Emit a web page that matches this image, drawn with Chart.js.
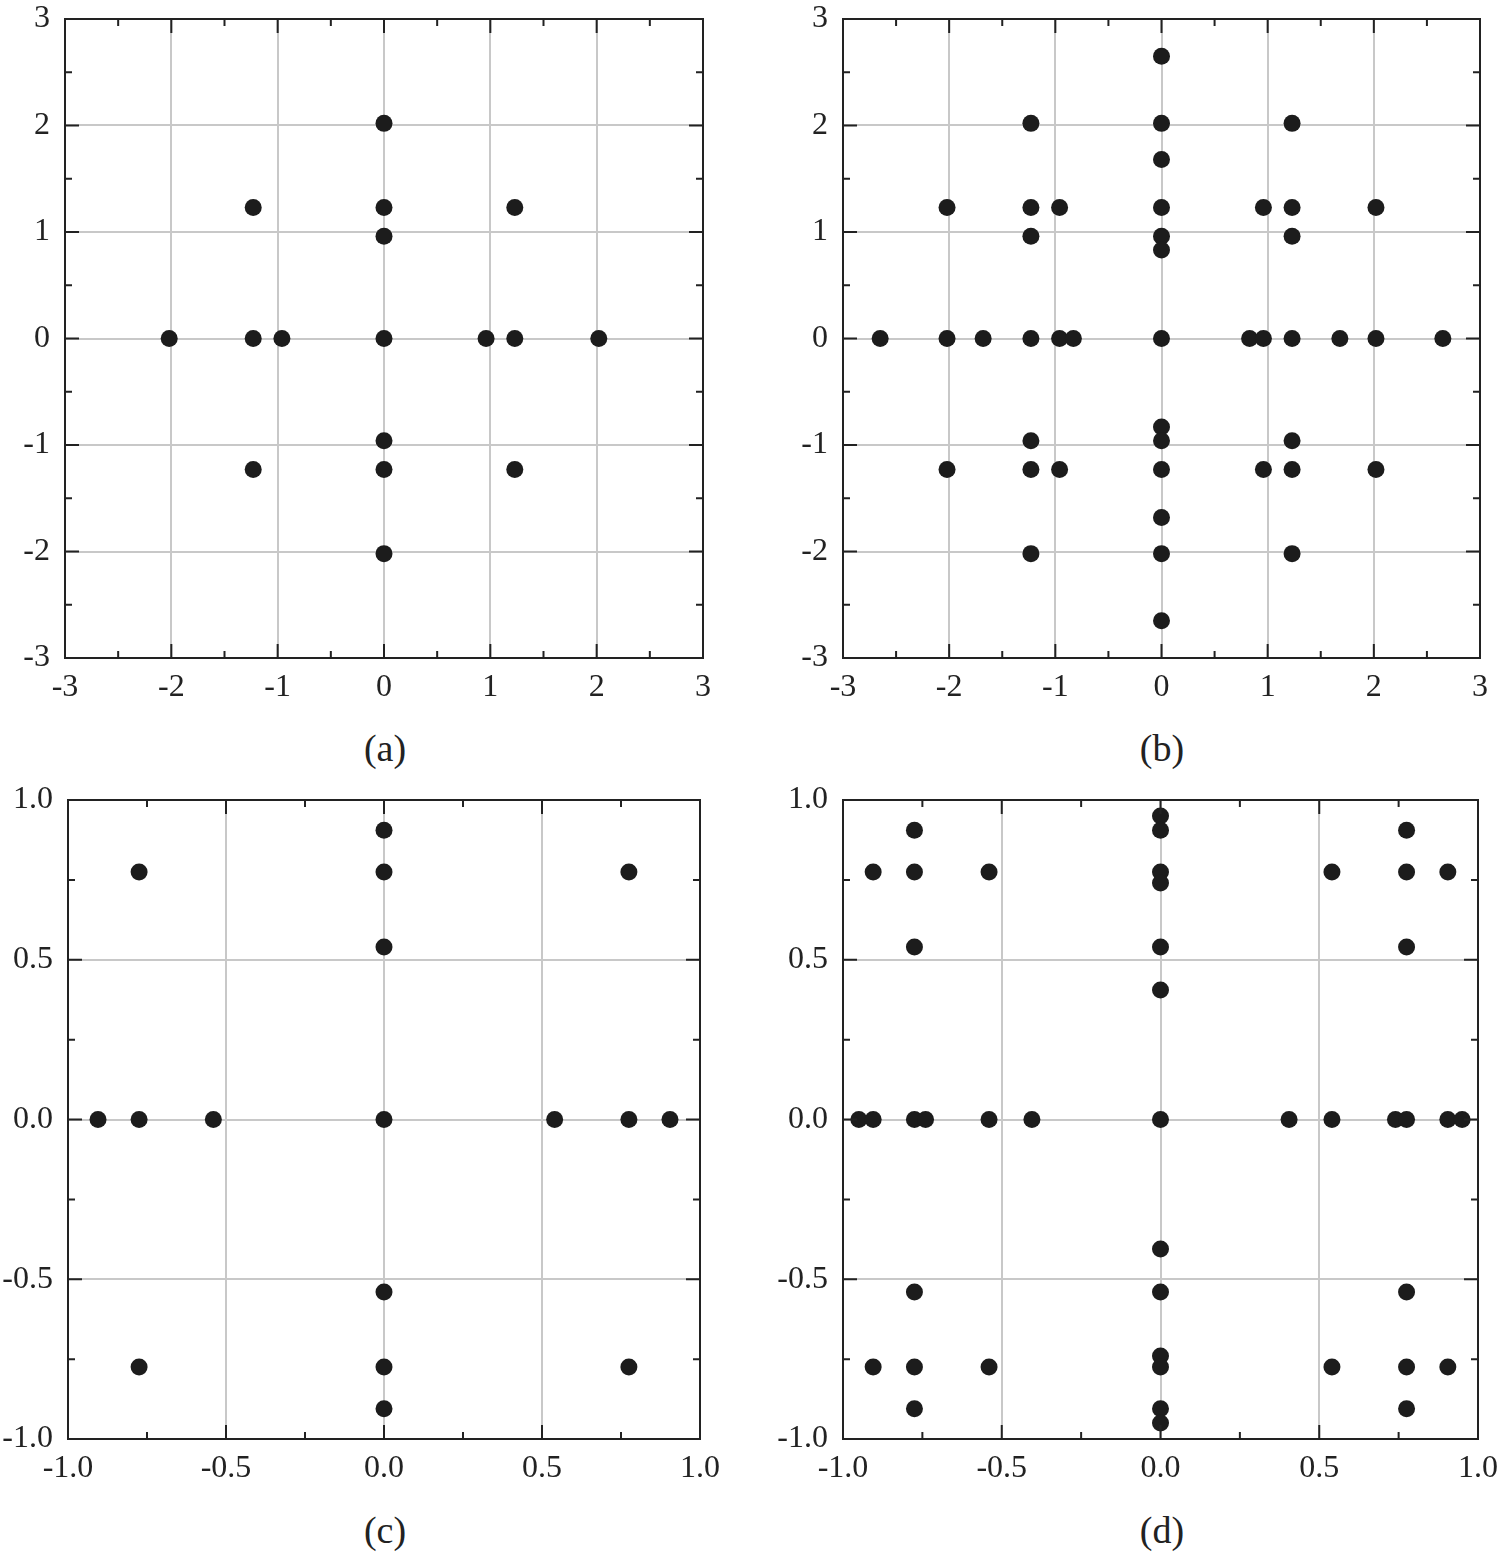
<!DOCTYPE html>
<html>
<head>
<meta charset="utf-8">
<script src="https://cdn.jsdelivr.net/npm/chart.js@4"></script>
<style>
  body { margin: 0; background: #fff; }
  #wrap { position: relative; width: 1500px; height: 1556px; }
  canvas { position: absolute; }
  .cap { position: absolute; width: 120px; text-align: center; font-family: 'Liberation Serif', 'DejaVu Serif', serif; font-size: 38px; line-height: 40px; color: #222; }
</style>
</head>
<body>
<div id="wrap">
  <canvas id="chartA" width="740" height="720" style="left:0;top:0"></canvas>
  <canvas id="chartB" width="722" height="720" style="left:778px;top:0"></canvas>
  <canvas id="chartC" width="740" height="720" style="left:0;top:780px"></canvas>
  <canvas id="chartD" width="722" height="720" style="left:778px;top:780px"></canvas>
  <div class="cap" style="left:325px;top:728px">(a)</div>
  <div class="cap" style="left:1102px;top:728px">(b)</div>
  <div class="cap" style="left:325px;top:1510px">(c)</div>
  <div class="cap" style="left:1102px;top:1510px">(d)</div>
</div>
<script>
// 数据 (a)
const aX = [0, -1.23, 0, 1.23, 0, -2.02, -1.23, -0.96, 0, 0.96, 1.23, 2.02, 0, -1.23, 0, 1.23, 0];
const aY = [2.02, 1.23, 1.23, 1.23, 0.96, 0, 0, 0, 0, 0, 0, 0, -0.96, -1.23, -1.23, -1.23, -2.02];

// 数据 (b)
const bX = [0,
  -1.23, 0, 1.23,
  0,
  -2.02, -1.23, -0.96, 0, 0.96, 1.23, 2.02,
  -1.23, 0, 1.23,
  0,
  -2.65, -2.02, -1.68, -1.23, -0.96, -0.83, 0, 0.83, 0.96, 1.23, 1.68, 2.02, 2.65,
  0,
  -1.23, 0, 1.23,
  -2.02, -1.23, -0.96, 0, 0.96, 1.23, 2.02,
  0,
  -1.23, 0, 1.23,
  0];
const bY = [2.65,
  2.02, 2.02, 2.02,
  1.68,
  1.23, 1.23, 1.23, 1.23, 1.23, 1.23, 1.23,
  0.96, 0.96, 0.96,
  0.83,
  0, 0, 0, 0, 0, 0, 0, 0, 0, 0, 0, 0, 0,
  -0.83,
  -0.96, -0.96, -0.96,
  -1.23, -1.23, -1.23, -1.23, -1.23, -1.23, -1.23,
  -1.68,
  -2.02, -2.02, -2.02,
  -2.65];

// 数据 (c)
const cX = [0, -0.775, 0, 0.775, 0, -0.905, -0.775, -0.54, 0, 0.54, 0.775, 0.905, 0, -0.775, 0, 0.775, 0];
const cY = [0.905, 0.775, 0.775, 0.775, 0.54, 0, 0, 0, 0, 0, 0, 0, -0.54, -0.775, -0.775, -0.775, -0.905];

// 数据 (d)
const dX = [0,
  -0.775, 0, 0.775,
  -0.905, -0.775, -0.54, 0, 0.54, 0.775, 0.905,
  0,
  -0.775, 0, 0.775,
  0,
  -0.95, -0.905, -0.775, -0.74, -0.54, -0.405, 0, 0.405, 0.54, 0.74, 0.775, 0.905, 0.95,
  0,
  -0.775, 0, 0.775,
  0,
  -0.905, -0.775, -0.54, 0, 0.54, 0.775, 0.905,
  -0.775, 0, 0.775,
  0];
const dY = [0.95,
  0.905, 0.905, 0.905,
  0.775, 0.775, 0.775, 0.775, 0.775, 0.775, 0.775,
  0.74,
  0.54, 0.54, 0.54,
  0.405,
  0, 0, 0, 0, 0, 0, 0, 0, 0, 0, 0, 0, 0,
  -0.405,
  -0.54, -0.54, -0.54,
  -0.74,
  -0.775, -0.775, -0.775, -0.775, -0.775, -0.775, -0.775,
  -0.905, -0.905, -0.905,
  -0.95];

// 刻度
const ticksWide = [-3, -2, -1, 0, 1, 2, 3];
const ticksUnit = [-1.0, -0.5, 0.0, 0.5, 1.0];

Chart.defaults.font.family = "'Liberation Serif', 'DejaVu Serif', serif";
Chart.defaults.font.size = 32;
Chart.defaults.color = '#222';

// 边框和内向刻度
const frameTicks = {
  id: 'frameTicks',
  afterDraw(chart, args, opts) {
    const c = chart.ctx, a = chart.chartArea;
    const xs = chart.scales.x, ys = chart.scales.y;
    c.save();
    c.strokeStyle = '#222';
    c.lineWidth = 2;
    c.strokeRect(a.left, a.top, a.right - a.left, a.bottom - a.top);
    const step = opts.minor;
    for (let v = xs.min; v <= xs.max + 1e-9; v += step) {
      const major = Math.abs(v / (step * 2) - Math.round(v / (step * 2))) < 1e-6;
      const len = major ? 14 : 7;
      const px = xs.getPixelForValue(v);
      c.beginPath();
      c.moveTo(px, a.bottom); c.lineTo(px, a.bottom - len);
      c.moveTo(px, a.top); c.lineTo(px, a.top + len);
      c.stroke();
    }
    for (let v = ys.min; v <= ys.max + 1e-9; v += step) {
      const major = Math.abs(v / (step * 2) - Math.round(v / (step * 2))) < 1e-6;
      const len = major ? 14 : 7;
      const py = ys.getPixelForValue(v);
      c.beginPath();
      c.moveTo(a.left, py); c.lineTo(a.left + len, py);
      c.moveTo(a.right, py); c.lineTo(a.right - len, py);
      c.stroke();
    }
    c.restore();
  }
};

function makeChart(id, xs, ys, ticks, fmt, yWidth, xHeight, pad) {
  const pts = xs.map((x, i) => ({ x: x, y: ys[i] }));
  const lo = ticks[0], hi = ticks[ticks.length - 1], st = ticks[1] - ticks[0];
  const grid = { color: '#c8c8c8', lineWidth: 2, drawTicks: false };
  return new Chart(document.getElementById(id), {
    type: 'scatter',
    data: {
      datasets: [{
        data: pts,
        pointRadius: 8.5,
        pointHoverRadius: 8.5,
        backgroundColor: '#1c1c1c',
        borderWidth: 0
      }]
    },
    options: {
      responsive: false,
      animation: false,
      layout: { padding: pad },
      scales: {
        x: {
          min: lo, max: hi,
          grid: grid,
          border: { display: false },
          ticks: { stepSize: st, autoSkip: false, maxRotation: 0, padding: 10, callback: fmt },
          afterFit: s => { s.height = xHeight; s.paddingLeft = 0; s.paddingRight = 0; }
        },
        y: {
          min: lo, max: hi,
          grid: grid,
          border: { display: false },
          ticks: { stepSize: st, autoSkip: false, padding: 15, callback: fmt },
          afterFit: s => { s.width = yWidth; s.paddingTop = 0; s.paddingBottom = 0; }
        }
      },
      plugins: {
        legend: { display: false },
        tooltip: { enabled: false },
        frameTicks: { minor: st / 2 }
      }
    },
    plugins: [frameTicks]
  });
}

const fmtInt = v => String(Math.round(v));
const fmtOne = v => v.toFixed(1);

makeChart('chartA', aX, aY, ticksWide, fmtInt, 65, 62, { left: 0, top: 19, right: 37, bottom: 0 });
makeChart('chartB', bX, bY, ticksWide, fmtInt, 65, 62, { left: 0, top: 19, right: 20, bottom: 0 });
makeChart('chartC', cX, cY, ticksUnit, fmtOne, 68, 61, { left: 0, top: 20, right: 40, bottom: 0 });
makeChart('chartD', dX, dY, ticksUnit, fmtOne, 65, 61, { left: 0, top: 20, right: 22, bottom: 0 });
</script>
</body>
</html>
